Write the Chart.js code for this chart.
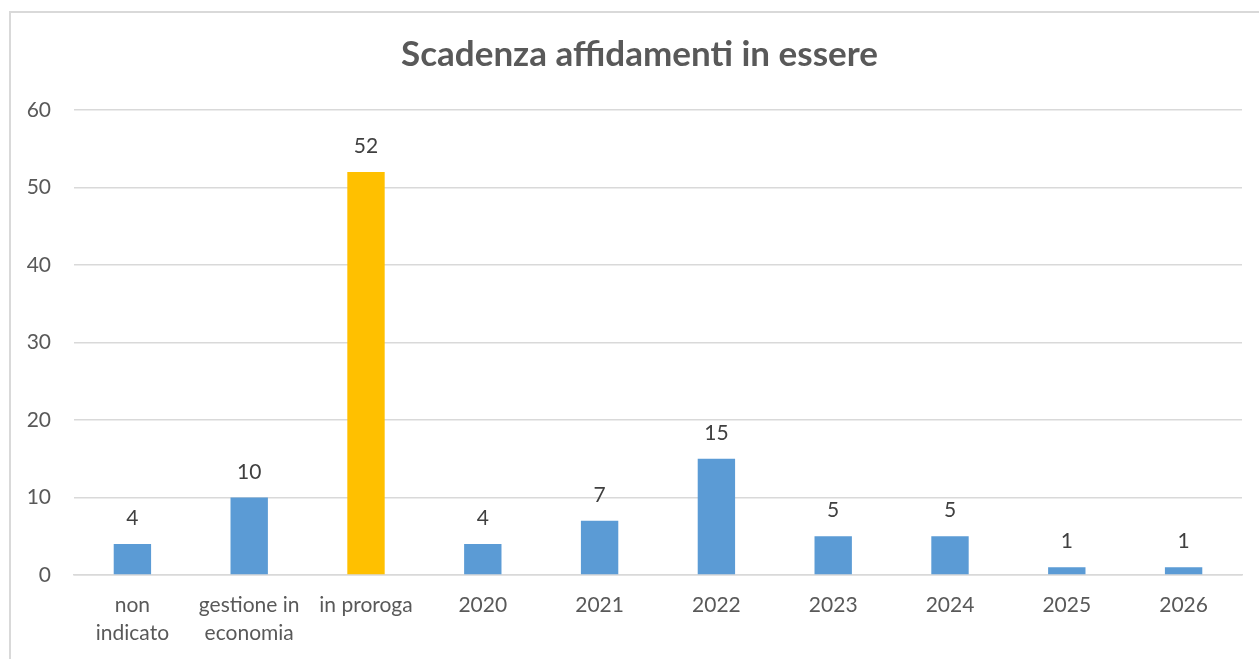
<!DOCTYPE html>
<html>
<head>
<meta charset="utf-8">
<script src="https://cdn.jsdelivr.net/npm/chart.js@4"></script>
<style>
  html, body { margin: 0; padding: 0; background: #fff; }
  #wrap { position: relative; width: 1259px; height: 659px; overflow: hidden; }
  #frame { position: absolute; left: 9px; top: 11px; width: 1400px; height: 800px; border: 2px solid #d9d9d9; box-sizing: border-box; pointer-events: none; }
  canvas { position: absolute; left: 0; top: 0; }
</style>
</head>
<body>
<div id="wrap">
  <canvas id="scadenzaChart" width="1259" height="659"></canvas>
  <div id="frame"></div>
</div>
<script>
const categories = [["non", "indicato"], ["gestione in", "economia"], "in proroga", "2020", "2021", "2022", "2023", "2024", "2025", "2026"];
const counts = [4, 10, 52, 4, 7, 15, 5, 5, 1, 1];
const yTicks = [0, 10, 20, 30, 40, 50, 60];
const chartTitle = 'Scadenza affidamenti in essere';

const blue = '#5B9BD5';
const gold = '#FFC000';
const barColors = categories.map((c) => c === "in proroga" ? gold : blue);

const fontFam = "Lato, 'Open Sans', sans-serif";

// etichette con i valori sopra le barre
const valueLabels = {
    id: 'valueLabels',
    afterDatasetsDraw(chart) {
        const ctx = chart.ctx;
        const meta = chart.getDatasetMeta(0);
        ctx.save();
        ctx.fillStyle = '#404040';
        ctx.font = "21px " + fontFam;
        ctx.textAlign = 'center';
        ctx.textBaseline = 'alphabetic';
        meta.data.forEach((bar, i) => {
            ctx.fillText(String(counts[i]), bar.x, bar.y - 19);
        });
        ctx.restore();
    }
};

// titolo centrato sulla pagina (non sull'area del grafico)
const pageTitle = {
    id: 'pageTitle',
    afterDraw(chart) {
        const ctx = chart.ctx;
        ctx.save();
        ctx.fillStyle = '#595959';
        ctx.font = "bold 35px " + fontFam;
        ctx.textAlign = 'center';
        ctx.textBaseline = 'middle';
        ctx.fillText(chartTitle, chart.width / 2 + 10, 55);
        ctx.restore();
    }
};

const ctx = document.getElementById('scadenzaChart');
new Chart(ctx, {
    type: 'bar',
    data: {
        labels: categories,
        datasets: [{
            label: 'Scadenza',
            data: counts,
            backgroundColor: barColors,
            borderWidth: 0,
            categoryPercentage: 1,
            barPercentage: 0.32
        }]
    },
    options: {
        responsive: false,
        animation: false,
        devicePixelRatio: 1,
        layout: { padding: { left: 10, right: 17, top: 110, bottom: 0 } },
        plugins: {
            legend: { display: false },
            tooltip: { enabled: false },
            title: { display: false }
        },
        scales: {
            x: {
                grid: { display: false, drawTicks: false },
                border: { display: true, color: '#d9d9d9', width: 1.5 },
                ticks: {
                    color: '#595959',
                    font: { family: fontFam, size: 21, lineHeight: 1.35 },
                    padding: 16,
                    maxRotation: 0,
                    autoSkip: false
                },
                afterFit(scale) { scale.height = 84; }
            },
            y: {
                min: 0,
                max: 60,
                afterBuildTicks(scale) { scale.ticks = yTicks.map((v) => ({ value: v })); },
                grid: { color: '#d9d9d9', lineWidth: 1.5, drawTicks: false },
                border: { display: false },
                ticks: {
                    color: '#595959',
                    font: { family: fontFam, size: 21 },
                    padding: 23
                },
                afterFit(scale) { scale.width = 64; }
            }
        }
    },
    plugins: [valueLabels, pageTitle]
});
</script>
</body>
</html>
